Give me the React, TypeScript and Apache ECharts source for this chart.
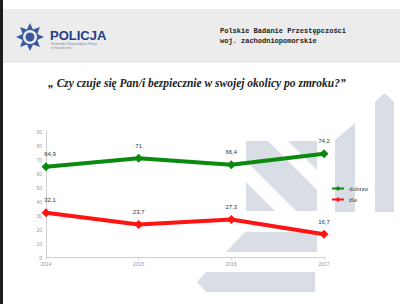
import React, { useEffect, useRef } from "react";
import * as echarts from "echarts";

const categories = ["2014", "2015", "2016", "2017"];
const goodValues = [64.9, 71, 66.4, 74.2];
const badValues = [32.1, 23.7, 27.3, 16.7];
const seriesNames = ["dobrze", "źle"];
const titleText = "„ Czy czuje się Pan/i bezpiecznie w swojej okolicy po zmroku?”";

function starPoints(cx: number, cy: number, rOut: number, rIn: number, n: number) {
  const pts: number[][] = [];
  for (let i = 0; i < n * 2; i++) {
    const r = i % 2 === 0 ? rOut : rIn;
    const a = (Math.PI * i) / n - Math.PI / 2;
    pts.push([cx + r * Math.cos(a), cy + r * Math.sin(a)]);
  }
  return pts;
}

function withFirstOffset(values: number[]) {
  return values.map((v, i) =>
    i === 0 ? { value: v, label: { offset: [4, 0] } } : v
  );
}

export default function App() {
  const ref = useRef<HTMLDivElement>(null);
  useEffect(() => {
    if (!ref.current) return;
    const chart = echarts.init(ref.current, undefined, { renderer: "svg" });
    const wm = "#d9dde6";
    const fmt = (p: any) => String(p.value).replace(".", ",");
    chart.setOption({
      animation: false,
      backgroundColor: "#ffffff",
      graphic: [
        { type: "rect", shape: { x: 0, y: 9, width: 400, height: 53 }, style: { fill: "#ececec" }, z: -10 },
        { type: "line", shape: { x1: 0, y1: 62, x2: 400, y2: 62 }, style: { stroke: "#dcdcdc", lineWidth: 1 }, z: -9 },
        { type: "rect", shape: { x: 0, y: 0, width: 3, height: 304 }, style: { fill: "#1c1c1c" }, z: 10 },
        // logo
        { type: "polygon", shape: { points: starPoints(30, 37, 14, 8, 8) }, style: { fill: "#3b5a9c" }, z: -5 },
        { type: "circle", shape: { cx: 30, cy: 37, r: 7 }, style: { fill: "#ececec" }, z: -4 },
        { type: "circle", shape: { cx: 30, cy: 37, r: 4.5 }, style: { fill: "#3b5a9c" }, z: -3 },
        { type: "text", x: 50, y: 35, style: { text: "POLICJA", fontSize: 13, fontWeight: "bold", fontFamily: "Liberation Sans", fill: "#233e8a", verticalAlign: "middle" }, z: 5 },
        { type: "text", x: 51, y: 44, style: { text: "Komenda Wojewódzka Policji", fontSize: 3.5, fontFamily: "Liberation Sans", fill: "#7a86a8", verticalAlign: "middle" }, z: 5 },
        { type: "text", x: 51, y: 48, style: { text: "w Szczecinie", fontSize: 3.5, fontFamily: "Liberation Sans", fill: "#7a86a8", verticalAlign: "middle" }, z: 5 },
        { type: "text", x: 220, y: 31, style: { text: "Polskie Badanie Przestępczości", fontSize: 7, fontWeight: "bold", fontFamily: "Liberation Mono", fill: "#222", verticalAlign: "middle" }, z: 5 },
        { type: "text", x: 220, y: 41, style: { text: "woj. zachodniopomorskie", fontSize: 7, fontWeight: "bold", fontFamily: "Liberation Mono", fill: "#222", verticalAlign: "middle" }, z: 5 },
        { type: "text", x: 48, y: 83, style: { text: titleText, fontSize: 11.5, fontWeight: "bold", fontStyle: "italic", fontFamily: "Liberation Serif", fill: "#222", verticalAlign: "middle" }, z: 5 },
        // watermark
        { type: "polygon", shape: { points: [[375, 102], [384.5, 93], [394, 102], [394, 212], [375, 212]] }, style: { fill: wm }, z: -8 },
        { type: "polygon", shape: { points: [[335, 140], [355, 123], [355, 212], [335, 212]] }, style: { fill: wm }, z: -8 },
        { type: "polygon", shape: { points: [[246, 141], [268, 141], [317, 190], [317, 211], [296, 211], [246, 161]] }, style: { fill: wm }, z: -8 },
        { type: "polygon", shape: { points: [[288, 141], [317, 141], [317, 170]] }, style: { fill: wm }, z: -8 },
        { type: "polygon", shape: { points: [[246, 182], [246, 211], [275, 211]] }, style: { fill: wm }, z: -8 },
        { type: "polygon", shape: { points: [[245, 232], [317, 232], [317, 252], [226, 252]] }, style: { fill: wm }, z: -8 },
        { type: "polygon", shape: { points: [[197, 282], [206, 272], [315, 272], [315, 292], [206, 292]] }, style: { fill: wm }, z: -8 },
      ],
      grid: { left: 46, right: 76, top: 131.7, bottom: 46.3, containLabel: false },
      legend: {
        orient: "vertical",
        left: 326,
        top: 180,
        itemWidth: 12,
        itemHeight: 6,
        itemGap: 4,
        data: seriesNames,
        textStyle: { fontSize: 7, color: "#333", fontFamily: "Liberation Serif" },
      },
      xAxis: {
        type: "category",
        boundaryGap: false,
        data: categories,
        axisLine: { lineStyle: { color: "#cfcfcf" } },
        axisTick: { show: true, alignWithLabel: true, lineStyle: { color: "#cfcfcf" }, length: 2 },
        axisLabel: { fontSize: 5, color: "#999", margin: 4, fontFamily: "Liberation Sans" },
        splitLine: { show: false },
      },
      yAxis: {
        type: "value",
        min: 0,
        max: 90,
        interval: 10,
        axisLine: { show: true, lineStyle: { color: "#cfcfcf" } },
        axisTick: { show: false },
        axisLabel: { fontSize: 5, color: "#999", margin: 4, fontFamily: "Liberation Sans" },
        splitLine: { show: false },
      },
      series: [
        {
          name: seriesNames[0],
          type: "line",
          data: withFirstOffset(goodValues),
          color: "#0b8a10",
          lineStyle: { width: 4 },
          symbol: "diamond",
          symbolSize: 9,
          label: { show: true, position: "top", distance: 5, fontSize: 6, color: "#333", formatter: fmt },
          z: 5,
        },
        {
          name: seriesNames[1],
          type: "line",
          data: withFirstOffset(badValues),
          color: "#ff1414",
          lineStyle: { width: 4 },
          symbol: "diamond",
          symbolSize: 9,
          label: { show: true, position: "top", distance: 5, fontSize: 6, color: "#333", formatter: fmt },
          z: 5,
        },
      ],
    });
    return () => chart.dispose();
  }, []);
  return <div ref={ref} style={{ position: "fixed", left: 0, top: 0, width: 400, height: 304 }} />;
}
